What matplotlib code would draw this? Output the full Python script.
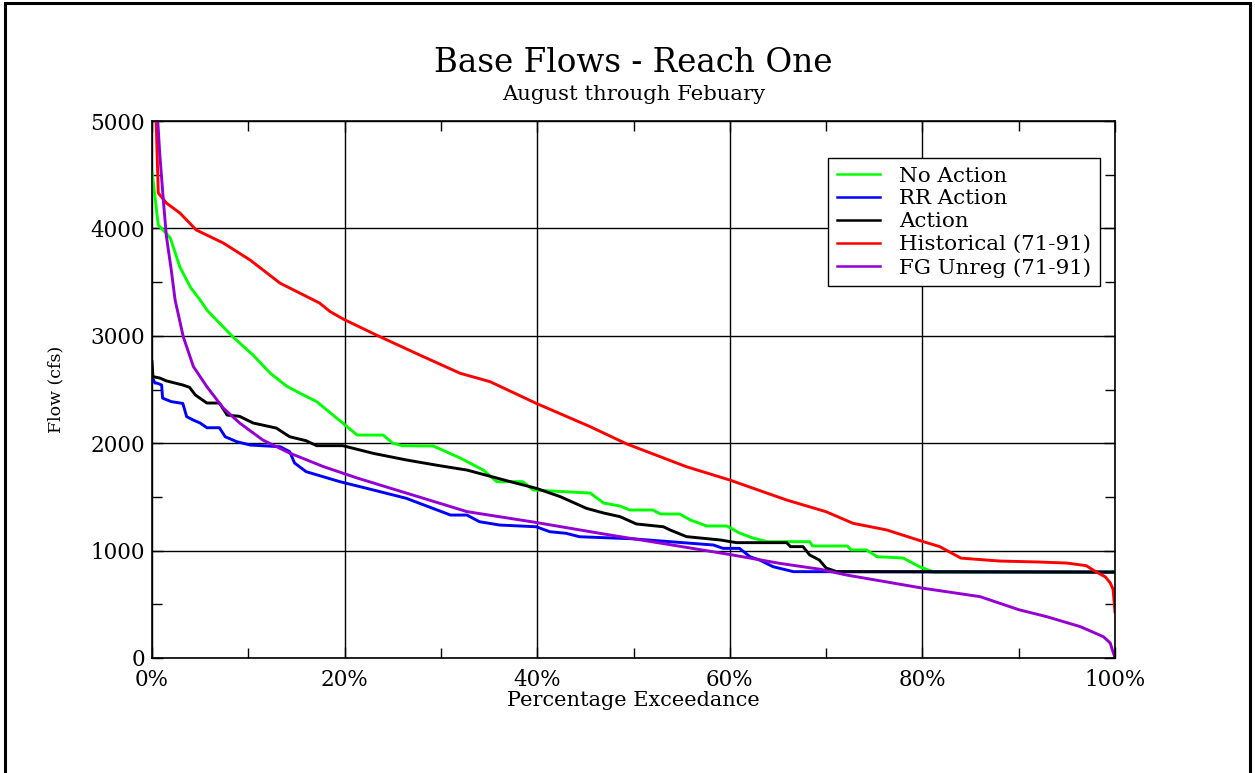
import matplotlib
matplotlib.use("Agg")
import matplotlib.pyplot as plt
from matplotlib.ticker import MultipleLocator, FuncFormatter
from matplotlib.patches import Rectangle

# exceedance (%) and flow (cfs)
no_action_x = [0, 0.3, 0.65, 1.0, 1.9, 2.9, 4.0, 5.0, 5.7, 8.4, 10.5, 12.3, 14.0, 15.7,
               17.1, 19.8, 21.3, 24.0, 25.0, 26.0, 29.2, 32.0, 34.4, 35.8, 38.5, 39.6,
               45.5, 46.9, 48.6, 49.6, 52.0, 52.8, 54.8, 55.9, 57.6, 59.7, 61.0, 62.4,
               63.9, 68.3, 68.6, 72.2, 72.6, 74.2, 75.3, 78.0, 79.7, 80.8, 81.2, 100]
no_action_y = [4530, 4300, 4030, 4000, 3910, 3640, 3450, 3333, 3240, 2990, 2820, 2650,
               2530, 2450, 2387, 2188, 2076, 2076, 2000, 1977, 1974, 1862, 1750, 1642,
               1642, 1564, 1536, 1443, 1415, 1378, 1378, 1341, 1341, 1285, 1229, 1229,
               1164, 1117, 1083, 1083, 1043, 1043, 1006, 1006, 943, 931, 850, 813, 800, 800]

rr_action_x = [0, 0.3, 0.5, 1.0, 1.1, 2.0, 3.2, 3.6, 4.3, 5.0, 5.7, 7.0, 7.6, 8.8, 10.2,
               13.3, 14.3, 14.8, 16.0, 19.5, 23.0, 26.4, 31.0, 32.7, 34.0, 36.1, 39.9,
               41.3, 43.0, 44.4, 49.9, 55.1, 58.3, 59.3, 61.0, 62.1, 63.1, 64.5, 66.6, 100]
rr_action_y = [2620, 2560, 2560, 2542, 2420, 2387, 2370, 2247, 2215, 2188, 2144, 2144,
               2060, 2014, 1983, 1967, 1921, 1816, 1735, 1642, 1564, 1487, 1331, 1331,
               1269, 1238, 1222, 1176, 1161, 1129, 1110, 1074, 1052, 1021, 1021, 943,
               912, 850, 804, 800]

action_x = [0, 0.1, 0.8, 1.5, 3.2, 3.9, 4.5, 5.7, 7.0, 7.8, 9.1, 10.5, 12.9, 14.3, 16.0,
            17.1, 19.8, 23.0, 26.4, 29.9, 32.7, 37.2, 39.9, 42.4, 45.1, 46.9, 48.6, 50.3,
            53.1, 53.8, 55.5, 59.0, 60.7, 65.9, 66.3, 67.6, 68.3, 69.3, 70.0, 71.1, 100]
action_y = [2759, 2620, 2607, 2580, 2542, 2520, 2449, 2374, 2374, 2262, 2250, 2188,
            2141, 2060, 2023, 1977, 1977, 1905, 1844, 1790, 1750, 1642, 1580, 1502,
            1394, 1350, 1316, 1248, 1222, 1192, 1130, 1099, 1074, 1074, 1037, 1037,
            959, 912, 838, 804, 800]

historical_x = [0.3, 0.65, 1.5, 2.9, 4.6, 7.4, 10.2, 13.3, 17.4, 18.5, 19.9, 23.3, 27.8,
                32.0, 35.1, 39.9, 45.5, 49.3, 55.5, 60.0, 65.9, 70.0, 72.8, 76.3, 80.1,
                81.8, 84.0, 88.0, 92.0, 95.0, 97.0, 98.0, 99.0, 99.5, 99.8, 100]
historical_y = [5400, 4330, 4236, 4143, 3985, 3864, 3705, 3490, 3305, 3225, 3154, 3007,
                2821, 2651, 2573, 2371, 2154, 1993, 1781, 1657, 1471, 1362, 1254, 1192,
                1083, 1037, 930, 903, 894, 884, 860, 804, 755, 700, 640, 430]

unreg_x = [0.5, 0.6, 0.8, 1.2, 1.5, 2.0, 2.4, 3.25, 4.3, 5.7, 7.4, 9.1, 11.5, 14.3, 17.8,
           21.3, 26.4, 32.7, 39.6, 46.5, 48.6, 53.4, 60.3, 65.2, 69.4, 72.1, 80.1, 86.0,
           90.0, 92.9, 96.4, 98.8, 99.5, 100]
unreg_y = [5400, 5000, 4700, 4236, 3923, 3613, 3333, 2990, 2713, 2526, 2327, 2188, 2030,
           1908, 1782, 1676, 1536, 1363, 1266, 1161, 1130, 1061, 959, 881, 826, 773, 649,
           571, 450, 385, 292, 198, 140, 0]

series = [
    (no_action_x, no_action_y, "#00ff00", "No Action"),
    (rr_action_x, rr_action_y, "#0000ff", "RR Action"),
    (action_x, action_y, "black", "Action"),
    (historical_x, historical_y, "#ff0000", "Historical (71-91)"),
    (unreg_x, unreg_y, "#9400d3", "FG Unreg (71-91)"),
]

plt.rcParams["font.family"] = "DejaVu Serif"

fig = plt.figure(figsize=(12.55, 7.73), dpi=100)
ax = fig.add_axes([152 / 1255, 115 / 773, 963 / 1255, 537 / 773])

for xs, ys, color, label in series:
    ax.plot(xs, ys, color=color, lw=2.1, label=label)

ax.set_xlim(0, 100)
ax.set_ylim(0, 5000)
ax.xaxis.set_major_locator(MultipleLocator(20))
ax.xaxis.set_minor_locator(MultipleLocator(10))
ax.yaxis.set_major_locator(MultipleLocator(1000))
ax.yaxis.set_minor_locator(MultipleLocator(500))
ax.xaxis.set_major_formatter(FuncFormatter(lambda v, p: f"{v:.0f}%"))
ax.grid(True, which="major", color="black", lw=1)
ax.set_axisbelow(True)
ax.tick_params(which="both", direction="in", top=True, right=True,
               labelsize=15.5, width=1)
ax.tick_params(which="major", length=8)
ax.tick_params(which="minor", length=7)
ax.tick_params(axis="y", pad=5)
ax.tick_params(axis="x", pad=8)
for s in ax.spines.values():
    s.set_linewidth(1.2)

ax.set_xlabel("Percentage Exceedance", fontsize=15, labelpad=0)
ax.set_ylabel("Flow (cfs)", fontsize=12.5)
ax.yaxis.set_label_coords(-0.091, 0.5)

fig.text(633.5 / 1255, 1 - 63 / 773, "Base Flows - Reach One",
         ha="center", va="center", fontsize=23.5)
fig.text(633.5 / 1255, 1 - 95 / 773, "August through Febuary",
         ha="center", va="center", fontsize=15.3)

leg = ax.legend(loc="upper right", bbox_to_anchor=(0.984, 0.931), borderaxespad=0,
                fancybox=False, edgecolor="black", framealpha=1, fontsize=15.4,
                handlelength=2.0, handletextpad=0.9, labelspacing=0.18, borderpad=0.4)
leg.get_frame().set_linewidth(1)
for h in leg.get_lines():
    h.set_linewidth(1.8)

# page frame
fig.patches.append(Rectangle((5 / 1255, -0.05), 1245 / 1255, 1.05 - 3 / 773,
                             transform=fig.transFigure, fill=False,
                             ec="black", lw=2.2))

fig.savefig("out.png", dpi=100)
